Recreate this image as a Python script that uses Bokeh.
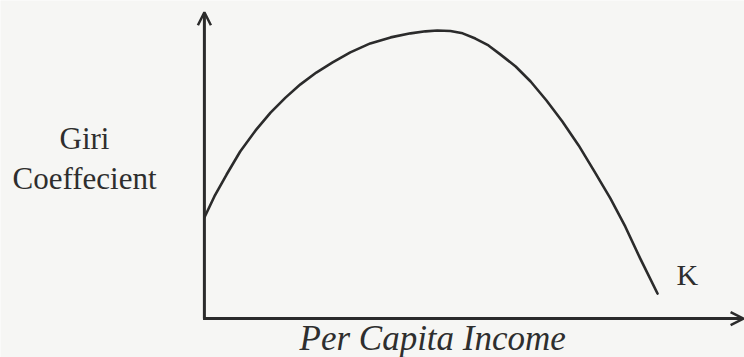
from bokeh.plotting import figure
from bokeh.models import Range1d, Arrow, OpenHead, Label
from bokeh.embed import file_html
from bokeh.resources import INLINE

# Kuznets curve: Gini coefficient against per capita income (arbitrary units)
income = [0, 2.2, 4.9, 7.9, 11.3, 14.6, 17.9, 21.2, 24.7, 28.3, 32.2,
          36.6, 41.1, 45.5, 48.8, 51.4, 54.3, 57.0, 59.8, 62.7, 65.3,
          68.7, 72.0, 75.5, 79.0, 82.6, 86.1, 89.6, 92.9, 96.2, 100]
gini = [35.1, 42.4, 50.0, 58.0, 65.3, 71.5, 76.7, 81.3, 85.4, 88.9, 92.4,
        95.5, 97.6, 99.0, 99.7, 100, 99.8, 99.0, 97.2, 94.8, 91.7,
        87.5, 82.3, 75.7, 68.4, 60.1, 51.0, 41.7, 31.9, 20.8, 8.7]

x_title = "Per Capita Income"
y_title = ["Giri", "Coeffecient"]
end_label = "K"

W, H = 744, 357
INK = "#2b2b2b"
TEXT = "#2e2e2e"
PAPER = "#f6f6f4"
SERIF = "Liberation Serif"

p = figure(width=W, height=H, output_backend="svg", toolbar_location=None,
           x_range=Range1d(-45.0, 119.2), y_range=Range1d(-13.5, 110.4),
           min_border=0, background_fill_color=PAPER, border_fill_color=PAPER)
p.axis.visible = False
p.grid.visible = False
p.outline_line_color = None

# axes drawn as arrows from the origin
p.add_layout(Arrow(end=OpenHead(size=13, line_width=2.5, line_color=INK),
                   x_start=0, y_start=0, x_end=0, y_end=106.3,
                   line_width=3, line_color=INK))
p.add_layout(Arrow(end=OpenHead(size=13, line_width=2.5, line_color=INK),
                   x_start=-0.3, y_start=0, x_end=119.0, y_end=0,
                   line_width=3, line_color=INK))

p.line(income, gini, line_width=2.6, line_color=INK, line_cap="round", line_join="round")

p.add_layout(Label(x=59, y=H - 155, x_units="screen", y_units="screen", text=y_title[0],
                   text_font=SERIF, text_font_size="31px", text_color=TEXT))
p.add_layout(Label(x=12, y=H - 195, x_units="screen", y_units="screen", text=y_title[1],
                   text_font=SERIF, text_font_size="31px", text_color=TEXT))
p.add_layout(Label(x=676, y=H - 290, x_units="screen", y_units="screen", text=end_label,
                   text_font=SERIF, text_font_size="30px", text_color=TEXT))
p.add_layout(Label(x=299, y=H - 357, x_units="screen", y_units="screen", text=x_title,
                   text_font=SERIF, text_font_style="italic", text_font_size="35px",
                   text_color=TEXT))

open("out.html", "w").write(file_html(p, INLINE))
